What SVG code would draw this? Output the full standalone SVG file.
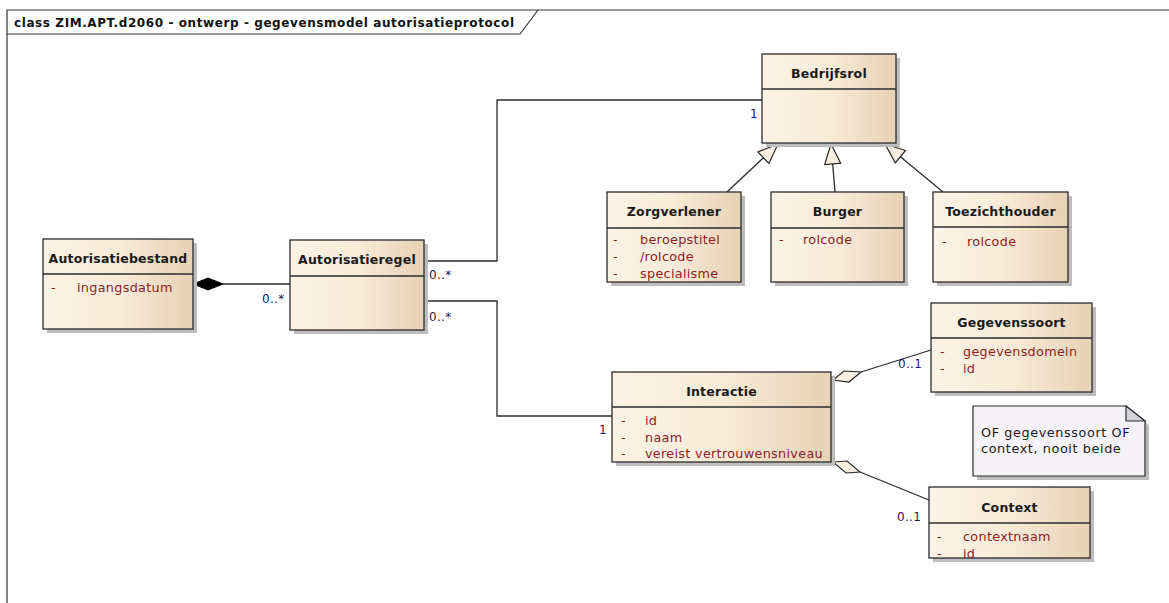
<svg xmlns="http://www.w3.org/2000/svg" width="1169" height="603" viewBox="0 0 1169 603">
<defs>
<linearGradient id="cls" x1="0" y1="0" x2="1" y2="0">
<stop offset="0" stop-color="#FCF3E6"/>
<stop offset="0.5" stop-color="#F8EBD8"/>
<stop offset="1" stop-color="#E6D2B4"/>
</linearGradient>
<style>
.box{fill:url(#cls);stroke:#2b2b2b;stroke-width:1.3}
.shd{fill:#bdbdbd}
.div{stroke:#2b2b2b;stroke-width:1.3}
.ttl{font-family:"DejaVu Sans",sans-serif;font-weight:bold;font-size:12.5px;fill:#1a1a1a;text-anchor:middle;letter-spacing:0.2px}
.att{font-family:"DejaVu Sans",sans-serif;font-size:12.8px;fill:#8c1f1f;letter-spacing:0.3px}
.mul{font-family:"DejaVu Sans",sans-serif;font-size:12px;fill:#1d1d4d;letter-spacing:0.3px}
.con{fill:none;stroke:#2b2b2b;stroke-width:1.3}
.hd{fill:#f8efe0;stroke:#2b2b2b;stroke-width:1.2}
.note{fill:#f5f3f7;stroke:#2b2b2b;stroke-width:1.2}
.ntx{font-family:"DejaVu Sans",sans-serif;font-size:12.8px;fill:#1a1a1a;letter-spacing:0.6px}
</style>
</defs>
<rect x="0" y="0" width="1169" height="603" fill="#ffffff"/>
<g id="frame">
<path d="M7,603 V10 H1169" fill="none" stroke="#333" stroke-width="1.2"/>
<path d="M7,34 H520 L538,10" fill="none" stroke="#333" stroke-width="1.2"/>
<text x="14" y="27" font-family="DejaVu Sans, sans-serif" font-weight="bold" font-size="12px" fill="#111" textLength="500" lengthAdjust="spacing">class ZIM.APT.d2060 - ontwerp - gegevensmodel autorisatieprotocol</text>
</g>
<g id="connectors">
<polyline class="con" points="424,261 497,261 497,100 762,100"/>
<polyline class="con" points="424,301 497,301 497,416 612,416"/>
<line class="con" x1="223" y1="284" x2="290" y2="284"/>
<polygon points="193,284 208,278 223,284 208,290" fill="#000" stroke="#000" stroke-width="1"/>
<line class="con" x1="861" y1="372" x2="931" y2="350"/>
<polygon class="hd" points="833,380 844,371 861,372 849,382"/>
<line class="con" x1="860" y1="472" x2="929" y2="500"/>
<polygon class="hd" points="833,462 847,461 860,472 846,473"/>
<line class="con" x1="727" y1="192" x2="763.4" y2="157.7"/>
<polygon class="hd" points="778,144 768.9,163.5 757.9,151.9"/>
<line class="con" x1="835" y1="192" x2="832.7" y2="163.9"/>
<polygon class="hd" points="831,144 840.7,163.2 824.7,164.6"/>
<line class="con" x1="943" y1="192" x2="900.4" y2="156.7"/>
<polygon class="hd" points="885,144 905.5,150.5 895.3,162.9"/>
<text class="mul" x="750" y="118">1</text>
<text class="mul" x="429" y="279">0..*</text>
<text class="mul" x="429" y="321">0..*</text>
<text class="mul" x="262" y="303">0..*</text>
<text class="mul" x="599" y="434">1</text>
<text class="mul" x="898" y="368">0..1</text>
<text class="mul" x="897" y="521">0..1</text>
</g>
<g id="Autorisatiebestand">
<rect class="shd" x="47" y="243" width="150" height="90"/>
<rect class="box" x="43" y="239" width="150" height="90"/>
<line class="div" x1="43" y1="274" x2="193" y2="274"/>
<text class="ttl" x="118" y="263">Autorisatiebestand</text>
<text class="att" x="51" y="292">-</text>
<text class="att" x="77" y="292">ingangsdatum</text>
</g>
<g id="Autorisatieregel">
<rect class="shd" x="294" y="244" width="134" height="90"/>
<rect class="box" x="290" y="240" width="134" height="90"/>
<line class="div" x1="290" y1="276" x2="424" y2="276"/>
<text class="ttl" x="357" y="264">Autorisatieregel</text>
</g>
<g id="Bedrijfsrol">
<rect class="shd" x="766" y="58" width="134" height="89"/>
<rect class="box" x="762" y="54" width="134" height="89"/>
<line class="div" x1="762" y1="89" x2="896" y2="89"/>
<text class="ttl" x="829" y="78">Bedrijfsrol</text>
</g>
<g id="Zorgverlener">
<rect class="shd" x="611" y="196" width="134" height="90"/>
<rect class="box" x="607" y="192" width="134" height="90"/>
<line class="div" x1="607" y1="228" x2="741" y2="228"/>
<text class="ttl" x="674" y="216">Zorgverlener</text>
<text class="att" x="613" y="244">-</text>
<text class="att" x="640" y="244">beroepstitel</text>
<text class="att" x="613" y="261">-</text>
<text class="att" x="640" y="261">/rolcode</text>
<text class="att" x="613" y="278">-</text>
<text class="att" x="640" y="278">specialisme</text>
</g>
<g id="Burger">
<rect class="shd" x="775" y="196" width="133" height="90"/>
<rect class="box" x="771" y="192" width="133" height="90"/>
<line class="div" x1="771" y1="228" x2="904" y2="228"/>
<text class="ttl" x="837.5" y="216">Burger</text>
<text class="att" x="779" y="244">-</text>
<text class="att" x="803" y="244">rolcode</text>
</g>
<g id="Toezichthouder">
<rect class="shd" x="937" y="196" width="135" height="90"/>
<rect class="box" x="933" y="192" width="135" height="90"/>
<line class="div" x1="933" y1="227" x2="1068" y2="227"/>
<text class="ttl" x="1000.5" y="216">Toezichthouder</text>
<text class="att" x="942" y="246">-</text>
<text class="att" x="967" y="246">rolcode</text>
</g>
<g id="Interactie">
<rect class="shd" x="616" y="376" width="219" height="90"/>
<rect class="box" x="612" y="372" width="219" height="90"/>
<line class="div" x1="612" y1="407" x2="831" y2="407"/>
<text class="ttl" x="721.5" y="396">Interactie</text>
<text class="att" x="621" y="425">-</text>
<text class="att" x="645" y="425">id</text>
<text class="att" x="621" y="442">-</text>
<text class="att" x="645" y="442">naam</text>
<text class="att" x="621" y="458">-</text>
<text class="att" x="645" y="458">vereist vertrouwensniveau</text>
</g>
<g id="Gegevenssoort">
<rect class="shd" x="935" y="307" width="161" height="89"/>
<rect class="box" x="931" y="303" width="161" height="89"/>
<line class="div" x1="931" y1="338" x2="1092" y2="338"/>
<text class="ttl" x="1011.5" y="327">Gegevenssoort</text>
<text class="att" x="940" y="356">-</text>
<text class="att" x="963" y="356">gegevensdomein</text>
<text class="att" x="940" y="373">-</text>
<text class="att" x="963" y="373">id</text>
</g>
<g id="Context">
<rect class="shd" x="933" y="491" width="161" height="71"/>
<rect class="box" x="929" y="487" width="161" height="71"/>
<line class="div" x1="929" y1="523" x2="1090" y2="523"/>
<text class="ttl" x="1009.5" y="512">Context</text>
<text class="att" x="937" y="541">-</text>
<text class="att" x="963" y="541">contextnaam</text>
<text class="att" x="937" y="558">-</text>
<text class="att" x="963" y="558">id</text>
</g>
<g id="Note">
<polygon class="shd" points="977,410 1130,410 1149,425 1149,480 977,480"/>
<polygon class="note" points="973,406 1126,406 1145,421 1145,476 973,476"/>
<polygon points="1126,406 1145,421 1126,421" fill="#d6d4da" stroke="#2b2b2b" stroke-width="1.2"/>
<text class="ntx" x="981" y="437">OF gegevenssoort OF</text>
<text class="ntx" x="981" y="453">context, nooit beide</text>
</g>
</svg>
